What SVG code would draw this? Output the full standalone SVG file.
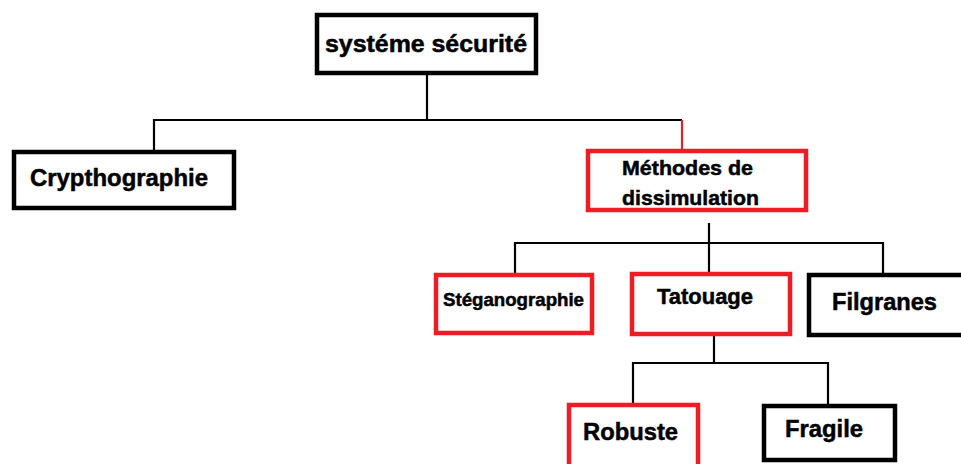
<svg xmlns="http://www.w3.org/2000/svg" width="961" height="464" viewBox="0 0 961 464">
<style>
.box{fill:#fff;stroke-width:4.5}
.blk{stroke:#000}
.red{stroke:#ee1c25}
.t{font-family:"Liberation Sans",Arial,sans-serif;font-weight:bold;fill:#000;stroke:#000;stroke-width:0.5}
.c{fill:none;stroke:#000;stroke-width:2.2}
</style>
<rect width="961" height="464" fill="#fff"/>
<g id="connectors">
<polyline class="c" points="427,75 427,120"/>
<polyline class="c" points="154,150 154,120 682,120"/>
<polyline class="c" points="682,120 682,149" style="stroke:#ee1c25"/>
<polyline class="c" points="709,223 709,272"/>
<polyline class="c" points="515,273 515,243 883,243 883,273"/>
<polyline class="c" points="714,336 714,363"/>
<polyline class="c" points="633,403 633,363 828,363 828,404"/>
</g>
<g id="systeme">
<rect class="box blk" x="317" y="15" width="219" height="58"/>
<text class="t" x="325" y="52" font-size="23" textLength="202" lengthAdjust="spacingAndGlyphs">systéme sécurité</text>
</g>
<g id="crypthographie">
<rect class="box blk" x="14" y="152" width="220" height="56"/>
<text class="t" x="30" y="186" font-size="24" textLength="178" lengthAdjust="spacingAndGlyphs">Crypthographie</text>
</g>
<g id="methodes">
<rect class="box red" x="588" y="151" width="218" height="59"/>
<text class="t" x="622" y="175" font-size="21" textLength="131" lengthAdjust="spacingAndGlyphs">Méthodes de</text>
<text class="t" x="622" y="205" font-size="21" textLength="137" lengthAdjust="spacingAndGlyphs">dissimulation</text>
</g>
<g id="steganographie">
<rect class="box red" x="436" y="275" width="156" height="58"/>
<text class="t" x="443" y="306" font-size="18.5" textLength="141" lengthAdjust="spacingAndGlyphs">Stéganographie</text>
</g>
<g id="tatouage">
<rect class="box red" x="632" y="274" width="158" height="60"/>
<text class="t" x="657" y="304" font-size="22" textLength="96" lengthAdjust="spacingAndGlyphs">Tatouage</text>
</g>
<g id="filgranes">
<rect class="box blk" x="809" y="275" width="160" height="60"/>
<text class="t" x="832" y="310" font-size="24" textLength="105" lengthAdjust="spacingAndGlyphs">Filgranes</text>
</g>
<g id="robuste">
<rect class="box red" x="569" y="405" width="129" height="70"/>
<text class="t" x="583" y="440" font-size="24" textLength="95" lengthAdjust="spacingAndGlyphs">Robuste</text>
</g>
<g id="fragile">
<rect class="box blk" x="764" y="406" width="131" height="54"/>
<text class="t" x="785" y="437" font-size="24" textLength="78" lengthAdjust="spacingAndGlyphs">Fragile</text>
</g>
</svg>
